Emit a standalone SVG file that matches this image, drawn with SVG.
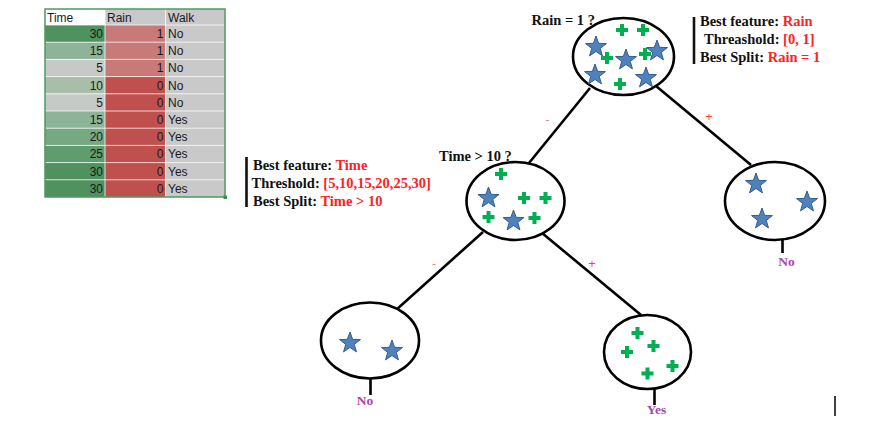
<svg xmlns="http://www.w3.org/2000/svg" width="882" height="433" viewBox="0 0 882 433">
<style>
.tb{font-family:"Liberation Sans",Arial,sans-serif;font-size:12px;fill:#1a1a1a}
.num{text-anchor:end}
.lbl{font-family:"Liberation Serif","Times New Roman",serif;font-weight:bold;font-size:14.5px;fill:#111}
.red{fill:#ff2222}
.leaf{font-family:"Liberation Serif","Times New Roman",serif;font-weight:bold;font-size:13.5px;fill:#a646b0;text-anchor:middle}
.node{fill:#fff;stroke:#000;stroke-width:2.6}
.edge{stroke:#000;stroke-width:2.6;fill:none}
.bar{stroke:#111;stroke-width:2.6}
.sign{font-family:"Liberation Sans",Arial,sans-serif;font-size:12px;text-anchor:middle}
</style>
<defs>
<path id="star" d="M0,-11 L2.645,-3.641 L10.46,-3.4 L4.28,1.39 L6.466,8.899 L0,4.5 L-6.466,8.899 L-4.28,1.39 L-10.46,-3.4 L-2.645,-3.641 Z" fill="#4f81bd" stroke="#385d8a" stroke-width="1"/>
<path id="plus" d="M-2,-6 h4 v4 h4 v4 h-4 v4 h-4 v-4 h-4 v-4 h4 z" fill="#00b050"/>
</defs>
<rect width="882" height="433" fill="#fff"/>

<g id="table">
<rect x="45" y="9" width="60" height="16" fill="#fff"/>
<rect x="105" y="9" width="120" height="16" fill="#c9c9c9"/>
<rect x="45" y="25" width="60" height="17.2" fill="#4f915f"/>
<rect x="45" y="42.2" width="60" height="17.2" fill="#8db398"/>
<rect x="45" y="59.4" width="60" height="17.2" fill="#c5cac6"/>
<rect x="45" y="76.6" width="60" height="17.2" fill="#a8bea9"/>
<rect x="45" y="93.8" width="60" height="17.2" fill="#c5cac6"/>
<rect x="45" y="111" width="60" height="17.2" fill="#8db398"/>
<rect x="45" y="128.2" width="60" height="17.2" fill="#76a882"/>
<rect x="45" y="145.4" width="60" height="17.2" fill="#5f9d6f"/>
<rect x="45" y="162.6" width="60" height="17.2" fill="#4f915f"/>
<rect x="45" y="179.8" width="60" height="17.2" fill="#4f915f"/>
<rect x="105" y="25" width="60.5" height="51.6" fill="#c87a79"/>
<rect x="105" y="76.6" width="60.5" height="120.4" fill="#c0504d"/>
<rect x="165.5" y="25" width="59.5" height="172" fill="#c9c9c9"/>
<g stroke="#fff" stroke-width="1" stroke-opacity="0.75">
<line x1="45" y1="25" x2="225" y2="25"/>
<line x1="45" y1="42.2" x2="225" y2="42.2"/>
<line x1="45" y1="59.4" x2="225" y2="59.4"/>
<line x1="45" y1="76.6" x2="225" y2="76.6"/>
<line x1="45" y1="93.8" x2="225" y2="93.8"/>
<line x1="45" y1="111" x2="225" y2="111"/>
<line x1="45" y1="128.2" x2="225" y2="128.2"/>
<line x1="45" y1="145.4" x2="225" y2="145.4"/>
<line x1="45" y1="162.6" x2="225" y2="162.6"/>
<line x1="45" y1="179.8" x2="225" y2="179.8"/>
<line x1="105" y1="9" x2="105" y2="197"/>
<line x1="165.5" y1="9" x2="165.5" y2="197"/>
</g>
<rect x="45" y="9" width="180" height="188" fill="none" stroke="#4e9a5e" stroke-width="1.5"/>
<rect x="223.5" y="195.5" width="3.5" height="3.5" fill="#3d8a4e"/>
<text class="tb" x="47" y="21.5">Time</text>
<text class="tb" x="107" y="21.5">Rain</text>
<text class="tb" x="168" y="21.5">Walk</text>
<g class="tb num">
<text x="103" y="38">30</text><text x="103" y="55.2">15</text><text x="103" y="72.4">5</text><text x="103" y="89.6">10</text><text x="103" y="106.8">5</text>
<text x="103" y="124">15</text><text x="103" y="141.2">20</text><text x="103" y="158.4">25</text><text x="103" y="175.6">30</text><text x="103" y="192.8">30</text>
<text x="163.5" y="38">1</text><text x="163.5" y="55.2">1</text><text x="163.5" y="72.4">1</text><text x="163.5" y="89.6">0</text><text x="163.5" y="106.8">0</text>
<text x="163.5" y="124">0</text><text x="163.5" y="141.2">0</text><text x="163.5" y="158.4">0</text><text x="163.5" y="175.6">0</text><text x="163.5" y="192.8">0</text>
</g>
<g class="tb">
<text x="168" y="38">No</text><text x="168" y="55.2">No</text><text x="168" y="72.4">No</text><text x="168" y="89.6">No</text><text x="168" y="106.8">No</text>
<text x="168" y="124">Yes</text><text x="168" y="141.2">Yes</text><text x="168" y="158.4">Yes</text><text x="168" y="175.6">Yes</text><text x="168" y="192.8">Yes</text>
</g>
</g>

<g id="connectors">
<line class="edge" x1="590" y1="88" x2="529" y2="163"/>
<line class="edge" x1="656" y1="86" x2="751" y2="165"/>
<line class="edge" x1="483" y1="232" x2="396" y2="310"/>
<line class="edge" x1="542" y1="233" x2="641" y2="315"/>
<text class="sign" x="547.5" y="124" fill="#f08080">-</text>
<text class="sign" x="709" y="121" fill="#ff4040">+</text>
<text class="sign" x="434" y="268" fill="#f08080">-</text>
<text class="sign" x="592" y="268" fill="#ff3070">+</text>
</g>

<g id="root">
<ellipse class="node" cx="623.5" cy="56.5" rx="50.5" ry="38.5"/>
<use href="#star" x="657" y="51"/>
<use href="#plus" x="622" y="30"/>
<use href="#plus" x="643" y="30"/>
<use href="#star" x="596" y="47"/>
<use href="#plus" x="607" y="58"/>
<use href="#star" x="626" y="60"/>
<use href="#plus" x="645" y="54"/>
<use href="#star" x="595" y="75"/>
<use href="#star" x="646" y="78"/>
<use href="#plus" x="620" y="84"/>
<text class="lbl" x="531.5" y="25" font-size="14">Rain = 1 ?</text>
<line class="bar" x1="694" y1="17" x2="694" y2="64"/>
<text class="lbl" x="700" y="26">Best feature: <tspan class="red">Rain</tspan></text>
<text class="lbl" x="704" y="43.5">Threashold: <tspan class="red">[0, 1]</tspan></text>
<text class="lbl" x="700" y="61.5">Best Split: <tspan class="red">Rain = 1</tspan></text>
</g>

<g id="time-node">
<ellipse class="node" cx="515.5" cy="201" rx="49" ry="39"/>
<use href="#plus" x="501" y="174"/>
<use href="#star" x="488.5" y="198"/>
<use href="#plus" x="524" y="198"/>
<use href="#plus" x="545.5" y="198"/>
<use href="#plus" x="488.5" y="217"/>
<use href="#star" x="513.5" y="221"/>
<use href="#plus" x="534.5" y="218"/>
<text class="lbl" x="439" y="161">Time &gt; 10 ?</text>
<line class="bar" x1="246.5" y1="157" x2="246.5" y2="207"/>
<text class="lbl" x="253" y="169.5">Best feature: <tspan class="red">Time</tspan></text>
<text class="lbl" x="251.5" y="188">Threshold: <tspan class="red">[5,10,15,20,25,30]</tspan></text>
<text class="lbl" x="253" y="205.5">Best Split: <tspan class="red">Time &gt; 10</tspan></text>
</g>

<g id="leaf-right-no">
<ellipse class="node" cx="775" cy="201" rx="50" ry="39"/>
<use href="#star" x="756" y="184"/>
<use href="#star" x="807" y="202"/>
<use href="#star" x="762" y="219"/>
<line class="edge" x1="782.5" y1="240" x2="782.5" y2="253"/>
<text class="leaf" x="786.5" y="266">No</text>
</g>

<g id="leaf-left-no">
<ellipse class="node" cx="370" cy="340.5" rx="49" ry="38"/>
<use href="#star" x="350" y="343"/>
<use href="#star" x="392" y="351"/>
<line class="edge" x1="370.5" y1="378" x2="370.5" y2="395"/>
<text class="leaf" x="365" y="405">No</text>
</g>

<g id="leaf-yes">
<ellipse class="node" cx="647.5" cy="352" rx="43.5" ry="37"/>
<use href="#plus" x="637.5" y="333"/>
<use href="#plus" x="653.5" y="346"/>
<use href="#plus" x="627" y="352"/>
<use href="#plus" x="672.5" y="366"/>
<use href="#plus" x="647.5" y="373.5"/>
<line class="edge" x1="654.5" y1="389" x2="654.5" y2="405"/>
<text class="leaf" x="656.5" y="414">Yes</text>
</g>

<line x1="835" y1="396" x2="835" y2="416" stroke="#000" stroke-width="1.5"/>
</svg>
